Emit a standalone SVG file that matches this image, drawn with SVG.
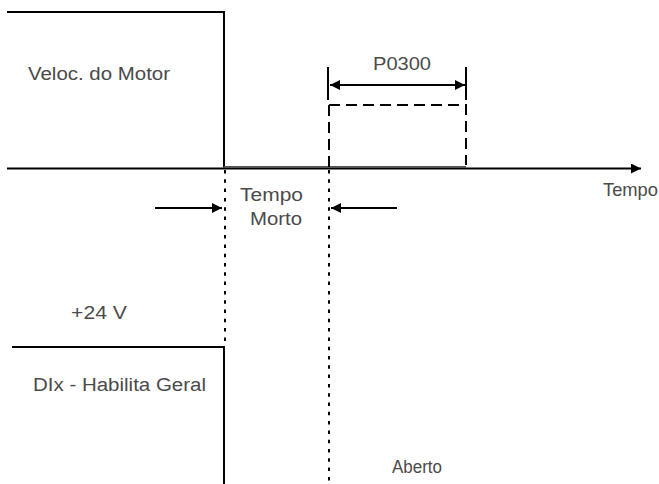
<svg xmlns="http://www.w3.org/2000/svg" width="659" height="484" viewBox="0 0 659 484">
<style>
text{font-family:"Liberation Sans",Arial,sans-serif;font-size:18px;fill:#4a4a4a}
.s{stroke:#000;fill:none;stroke-width:2}
.dot{stroke:#000;fill:none;stroke-width:2;stroke-dasharray:3.5 5.8}
.dash{stroke:#000;fill:none;stroke-width:2;stroke-dasharray:11 6}
</style>
<defs>
<marker id="ah" viewBox="0 0 10 10" refX="10" refY="5" markerWidth="6" markerHeight="5" orient="auto-start-reverse" markerUnits="strokeWidth"><path d="M0,0 L10,5 L0,10 z" fill="#000"/></marker>
</defs>
<rect width="659" height="484" fill="#fff"/>
<g id="motor">
<path class="s" d="M7,12 H224 V167.5"/>
<path d="M224,166.8 H466" stroke="#555" stroke-width="1.5" fill="none"/>
<text x="28" y="80" textLength="142" lengthAdjust="spacingAndGlyphs">Veloc. do Motor</text>
</g>
<g id="p0300">
<path class="dash" d="M329,105 H466 V165"/>
<path class="dash" d="M329,105 V168"/>
<path class="s" d="M328,67 V100 M466,67 V100"/>
<text x="373" y="70" textLength="58" lengthAdjust="spacingAndGlyphs">P0300</text>
</g>
<g id="enable">
<path class="s" d="M12,347 H224 V484"/>
<text x="71" y="319" textLength="56" lengthAdjust="spacingAndGlyphs">+24 V</text>
<text x="33" y="391" textLength="173" lengthAdjust="spacingAndGlyphs">DIx - Habilita Geral</text>
</g>
<g id="labels">
<text x="240" y="201" textLength="63" lengthAdjust="spacingAndGlyphs">Tempo</text>
<text x="250" y="225" textLength="52" lengthAdjust="spacingAndGlyphs">Morto</text>
<text x="603" y="196" textLength="55" lengthAdjust="spacingAndGlyphs">Tempo</text>
<text x="392" y="473" textLength="50" lengthAdjust="spacingAndGlyphs">Aberto</text>
</g>
<g id="connectors">
<path class="s" d="M7,168.5 H641" marker-end="url(#ah)"/>
<path class="dot" d="M225,170 V345"/>
<path class="dot" d="M329,170 V484"/>
<path class="s" d="M155,208 H222" marker-end="url(#ah)"/>
<path class="s" d="M397,208 H331" marker-end="url(#ah)"/>
<path class="s" d="M330,85 H465" marker-start="url(#ah)" marker-end="url(#ah)"/>
</g>
</svg>
